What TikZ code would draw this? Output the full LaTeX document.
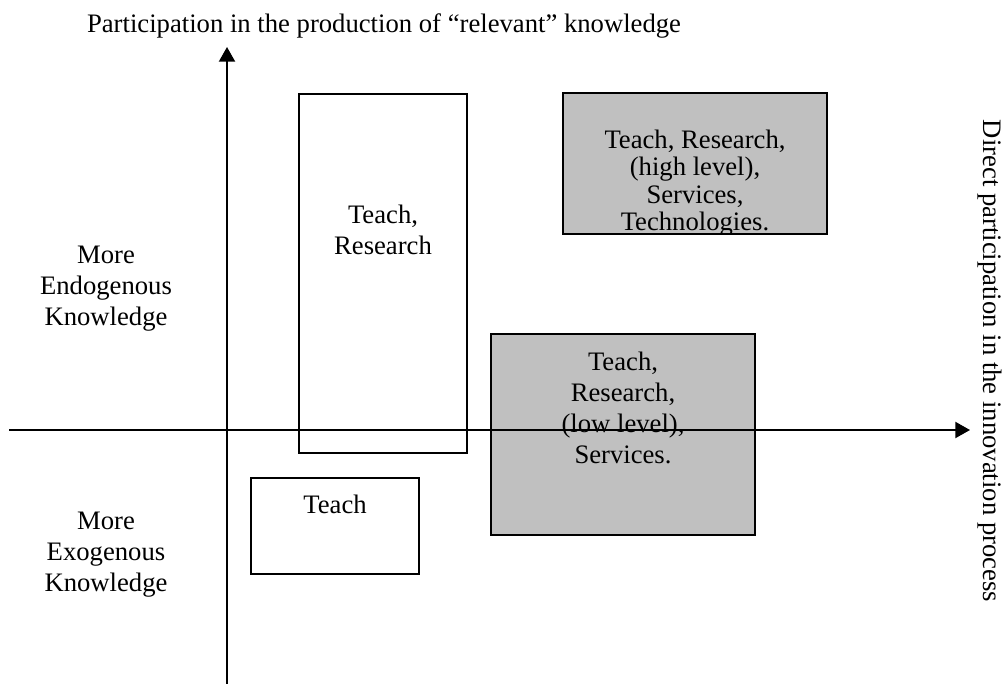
\documentclass[tikz,border=0pt]{standalone}
\usepackage{fontspec}
\setmainfont{Liberation Serif}
\usepackage{xcolor}
\usetikzlibrary{arrows.meta}
\usetikzlibrary{math}
\definecolor{mygray}{RGB}{192,192,192}

\begin{document}
\begin{tikzpicture}[x=0.75pt,y=-0.75pt,
  box/.style={draw, line width=1.1pt, fill=white},
  graybox/.style={box, fill=mygray},
  lbl/.style={align=center, font=\fontsize{20pt}{23.3pt}\selectfont, inner sep=0pt},
  axis/.style={line width=1.5pt, -{Triangle[length=11pt,width=12pt]}}]
\tikzmath{
\xo=227;
\yo=430;
}
\useasboundingbox (0,0) rectangle (1006,684);

 %boxes
 \node[box, minimum width=126pt, minimum height=269.25pt] (RB) at (383,273.5) {};
 \node[graybox, minimum width=198pt, minimum height=105.75pt] (HB) at (695,163.5) {};
 \node[graybox, minimum width=198pt, minimum height=150.75pt] (LB) at (623,434.5) {};
 \node[box, minimum width=126pt, minimum height=72pt] (TB) at (335,526) {};

 %axes
 \coordinate (XL) at (9,\yo);
 \coordinate (XR) at (970,\yo);
 \coordinate (YB) at (\xo,684);
 \coordinate (YT) at (\xo,47);
 \draw[axis] (XL) -- (XR);
 \draw[axis] (YB) -- (YT);

 %box texts
 \node[lbl] (RBtext) at (383,230) {Teach,\\Research};
 \begin{scope}
 \clip (HB.south west) rectangle (HB.north east);
 \node[lbl, font=\fontsize{20pt}{20.5pt}\selectfont] (HBtext) at (695,183) {Teach, Research,\\(high level),\\Services,\\Technologies.};
 \end{scope}
 \node[lbl] (LBtext) at (623,408) {Teach,\\Research,\\(low level),\\Services.};
 \node[lbl, anchor=base] (TBtext) at (335,513) {Teach};

 %axis labels
 \node[lbl, anchor=base] (ytitle) at (384,33) {Participation in the production of “relevant” knowledge};
 \node[lbl, anchor=base, rotate=-90] (xtitle) at (983,361) {Direct participation in the innovation process};
 \node[lbl] (endo) at (106,289) {More\\Endogenous\\Knowledge};
 \node[lbl] (exo) at (106,555) {More\\Exogenous\\Knowledge};

\end{tikzpicture}
\end{document}
